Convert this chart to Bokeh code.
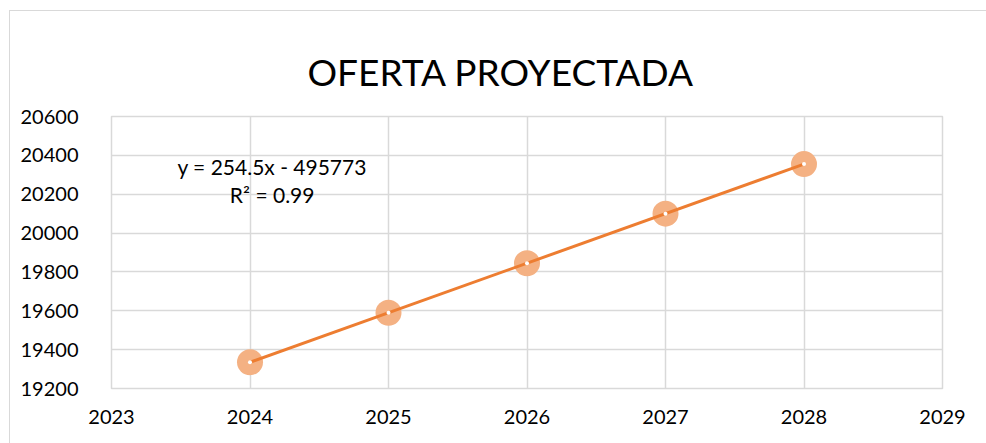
import numpy as np
from bokeh.plotting import figure
from bokeh.models import ColumnDataSource, Label, FixedTicker, Range1d
from bokeh.embed import file_html
from bokeh.resources import INLINE

years = [2024, 2025, 2026, 2027, 2028]
oferta = [19335, 19590, 19845, 20100, 20355]
x_ticks = [2023, 2024, 2025, 2026, 2027, 2028, 2029]
y_ticks = [19200, 19400, 19600, 19800, 20000, 20200, 20400, 20600]
title_text = "OFERTA PROYECTADA"
eq_text = "y = 254.5x - 495773"
r2_text = "R² = 0.99"

FONT = "Lato"

p = figure(width=977, height=433, output_backend="svg", toolbar_location=None,
           x_range=Range1d(2023, 2029), y_range=Range1d(19200, 20600),
           frame_width=831, frame_height=272,
           min_border_left=101, min_border_right=45, min_border_top=105, min_border_bottom=56)
p.styles = {"margin-left": "9px", "margin-top": "10px",
            "border-top": "1px solid #d9d9d9", "border-left": "1px solid #d9d9d9"}

p.title.text = title_text
p.title.align = "left"
p.title.offset = 196
p.title.text_font = FONT
p.title.text_font_size = "37px"
p.title.text_font_style = "normal"
p.title.text_color = "#000000"
p.title.vertical_align = "top"
p.title.standoff = 42

for ax in (p.xaxis, p.yaxis):
    ax.axis_line_color = None
    ax.major_tick_line_color = None
    ax.minor_tick_line_color = None
    ax.major_label_text_font = FONT
    ax.major_label_text_font_size = "20px"
    ax.major_label_text_color = "#000000"
p.xaxis.ticker = FixedTicker(ticks=x_ticks)
p.yaxis.ticker = FixedTicker(ticks=y_ticks)
p.xaxis.major_label_standoff = 15
p.yaxis.major_label_standoff = 27

p.xgrid.ticker = FixedTicker(ticks=x_ticks)
p.ygrid.ticker = FixedTicker(ticks=y_ticks)
for g in (p.xgrid, p.ygrid):
    g.grid_line_color = "#d9d9d9"
    g.grid_line_width = 1.5
p.outline_line_color = "#d9d9d9"
p.outline_line_width = 1.5

src = ColumnDataSource(dict(x=years, y=oferta))
p.scatter("x", "y", source=src, size=26, fill_color="#F4B183", line_color=None, fill_alpha=1.0)

coef = np.polyfit(years, oferta, 1)
trend_x = [years[0], years[-1]]
trend_y = [coef[0] * xx + coef[1] for xx in trend_x]
p.line(trend_x, trend_y, line_color="#ED7D31", line_width=3)
p.scatter("x", "y", source=src, size=4, fill_color="#ffffff", line_color=None)

p.add_layout(Label(x=2024.16, y=20345, text=eq_text, text_font=FONT, text_font_size="21px",
                   text_align="center", text_baseline="middle", text_color="#000000"))
p.add_layout(Label(x=2024.16, y=20200, text=r2_text, text_font=FONT, text_font_size="21px",
                   text_align="center", text_baseline="middle", text_color="#000000"))

open("out.html", "w").write(file_html(p, INLINE))
